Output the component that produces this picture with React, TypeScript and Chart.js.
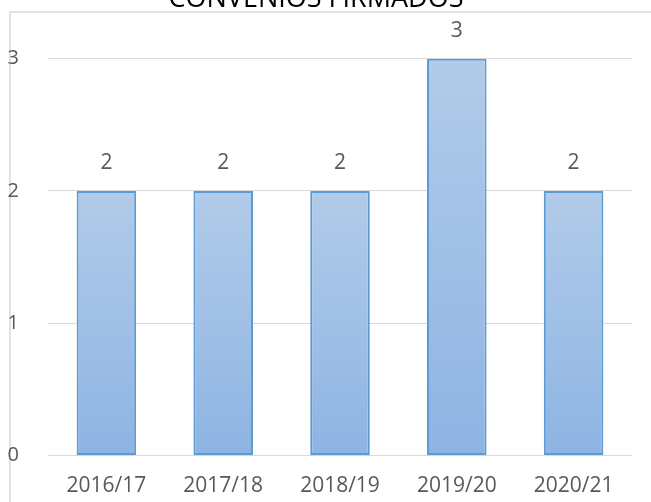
import React, { useEffect, useRef } from "react";
import { Chart, registerables } from "chart.js";

Chart.register(...registerables);

const categories = ["2016/17", "2017/18", "2018/19", "2019/20", "2020/21"];
const values = [2, 2, 2, 3, 2];
const yTicks = [0, 1, 2, 3];
const titleText = "CONVENIOS FIRMADOS";

const FONT = "'Open Sans', sans-serif";
const OFFSET = 20; // canvas shifted up so title is partly cut off

const framePlugin = {
  id: "frame",
  beforeDraw(chart: any) {
    const ctx = chart.ctx;
    ctx.save();
    ctx.strokeStyle = "#d9d9d9";
    ctx.lineWidth = 1.5;
    ctx.beginPath();
    ctx.moveTo(10, chart.height);
    ctx.lineTo(10, 12 + OFFSET);
    ctx.lineTo(chart.width, 12 + OFFSET);
    ctx.stroke();
    ctx.restore();
  },
};

const labelPlugin = {
  id: "valueLabels",
  afterDatasetsDraw(chart: any) {
    const ctx = chart.ctx;
    const meta = chart.getDatasetMeta(0);
    ctx.save();
    ctx.font = `21px ${FONT}`;
    ctx.fillStyle = "#595959";
    ctx.textAlign = "center";
    ctx.textBaseline = "middle";
    meta.data.forEach((bar: any, i: number) => {
      ctx.fillText(String(values[i]), bar.x, bar.y - 28);
    });
    ctx.restore();
  },
};

export default function App() {
  const ref = useRef<HTMLCanvasElement>(null);
  useEffect(() => {
    if (!ref.current) return;
    const chart = new Chart(ref.current, {
      type: "bar",
      data: {
        labels: categories,
        datasets: [
          {
            data: values,
            backgroundColor: (c: any) => {
              const ch = c.chart;
              const y = ch.scales && ch.scales.y;
              if (!y || c.dataIndex === undefined) return "#a3c2e6";
              const top = y.getPixelForValue(values[c.dataIndex]);
              const bot = y.getPixelForValue(0);
              if (!isFinite(top) || !isFinite(bot) || top === bot) return "#a3c2e6";
              const g = ch.ctx.createLinearGradient(0, top, 0, bot);
              g.addColorStop(0, "#b1cbe9");
              g.addColorStop(1, "#8eb4e3");
              return g;
            },
            borderColor: "#5b9bd5",
            borderWidth: 2,
            borderSkipped: false,
            barPercentage: 0.51,
            categoryPercentage: 1,
          },
        ],
      },
      options: {
        responsive: false,
        maintainAspectRatio: false,
        animation: false,
        layout: { padding: { left: 0, right: 19, top: 0, bottom: 0 } },
        plugins: {
          legend: { display: false },
          tooltip: { enabled: false },
          title: {
            display: true,
            text: titleText,
            color: "#000000",
            font: { family: FONT, size: 27, weight: "normal" },
            padding: { top: 3, bottom: 43.3 },
          },
        },
        scales: {
          x: {
            grid: { display: false, drawTicks: false },
            border: { display: false },
            ticks: {
              color: "#595959",
              font: { family: FONT, size: 21 },
              padding: 18,
              maxRotation: 0,
            },
            afterFit: (s: any) => {
              s.height = 46.5;
            },
          },
          y: {
            min: 0,
            max: 3,
            afterBuildTicks: (s: any) => {
              s.ticks = yTicks.map((v) => ({ value: v }));
            },
            grid: { color: "#d9d9d9", lineWidth: 1, drawTicks: false },
            border: { display: false },
            ticks: {
              color: "#595959",
              font: { family: FONT, size: 20 },
              padding: 29,
            },
            afterFit: (s: any) => {
              s.width = 48;
            },
          },
        },
      },
      plugins: [framePlugin, labelPlugin],
    });
    return () => chart.destroy();
  }, []);
  return (
    <div style={{ position: "absolute", left: 0, top: -OFFSET, width: 651, height: 502 + OFFSET }}>
      <canvas ref={ref} width={651} height={502 + OFFSET} style={{ display: "block" }} />
    </div>
  );
}
